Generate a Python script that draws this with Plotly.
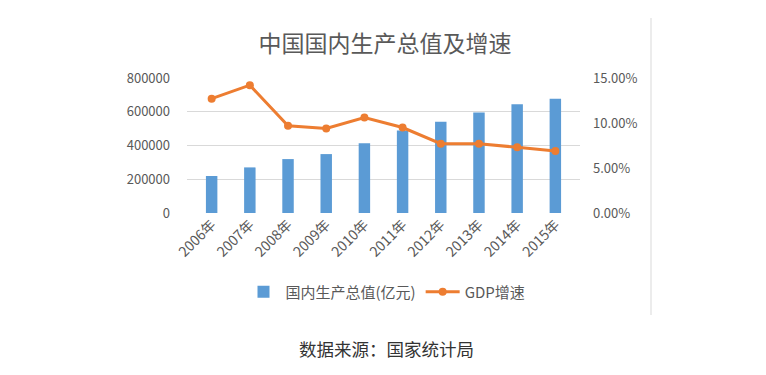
import plotly.graph_objects as go

years = ["2006年", "2007年", "2008年", "2009年", "2010年", "2011年", "2012年", "2013年", "2014年", "2015年"]
gdp = [219439, 270232, 319516, 349081, 413030, 489301, 540367, 595244, 643974, 676708]
growth = [0.127, 0.142, 0.097, 0.094, 0.106, 0.095, 0.077, 0.077, 0.073, 0.069]

left_ticks = [0, 200000, 400000, 600000, 800000]
right_ticks = [0, 0.05, 0.10, 0.15]
right_labels = ["0.00%", "5.00%", "10.00%", "15.00%"]

FONT = "Noto Sans CJK SC"
GRAY = "#595959"

# page body adds an 8px offset; figure is sized to the remaining window
W, H = 758, 367
OFF = 8
PL, PT, PW, PH = 187 - OFF, 78 - OFF, 393, 135

fig = go.Figure()
fig.add_trace(go.Bar(
    x=years, y=gdp, name="国内生产总值(亿元)",
    marker=dict(color="#5B9BD5", line=dict(width=0)),
    width=0.3, yaxis="y",
))
fig.add_trace(go.Scatter(
    x=years, y=growth, name="GDP增速", mode="lines+markers",
    line=dict(color="#ED7D31", width=3),
    marker=dict(color="#ED7D31", size=8),
    yaxis="y2",
))

fig.update_layout(
    width=W, height=H,
    margin=dict(l=PL, r=W - PL - PW, t=PT, b=H - PT - PH),
    paper_bgcolor="white", plot_bgcolor="white",
    font=dict(family=FONT, color=GRAY, size=13),
    title=dict(text="中国国内生产总值及增速", x=(385 - OFF) / W, xanchor="center",
               y=1 - (44 - OFF) / H, yanchor="middle",
               font=dict(family=FONT, size=23, color=GRAY)),
    xaxis=dict(type="category", tickangle=-45, showgrid=False, automargin=False,
               showline=False, ticks="", tickfont=dict(size=14, color=GRAY)),
    yaxis=dict(range=[0, 800000], tickvals=left_ticks, automargin=False,
               ticktext=[str(v) for v in left_ticks],
               showgrid=True, gridcolor="#d9d9d9", gridwidth=1,
               zeroline=False, showline=False, ticks="",
               tickfont=dict(size=13, color=GRAY), ticklabelstandoff=16),
    yaxis2=dict(range=[0, 0.15], tickvals=right_ticks, ticktext=right_labels,
                overlaying="y", side="right", showgrid=False, zeroline=False,
                showline=False, ticks="", automargin=False,
                tickfont=dict(size=13, color=GRAY), ticklabelstandoff=12),
    legend=dict(orientation="h", x=(386 - 187) / PW, xanchor="center",
                y=-(292 - 213) / PH, yanchor="middle",
                font=dict(size=15, color=GRAY), itemwidth=34,
                traceorder="normal"),
    bargap=0.7,
    showlegend=True,
)

# right-hand border of the chart box
fig.add_shape(type="line", xref="paper", yref="paper",
              x0=(651 - 187) / PW, x1=(651 - 187) / PW,
              y0=(213 - 315) / PH, y1=(213 - 18) / PH,
              line=dict(color="#d9d9d9", width=1))

fig.add_annotation(text="数据来源：国家统计局", xref="paper", yref="paper",
                   x=(386 - 187) / PW, y=-(348 - 213) / PH, xanchor="center", yanchor="middle",
                   showarrow=False, font=dict(family=FONT, size=17.5, color="#333333"))

fig.write_html("out.html")
